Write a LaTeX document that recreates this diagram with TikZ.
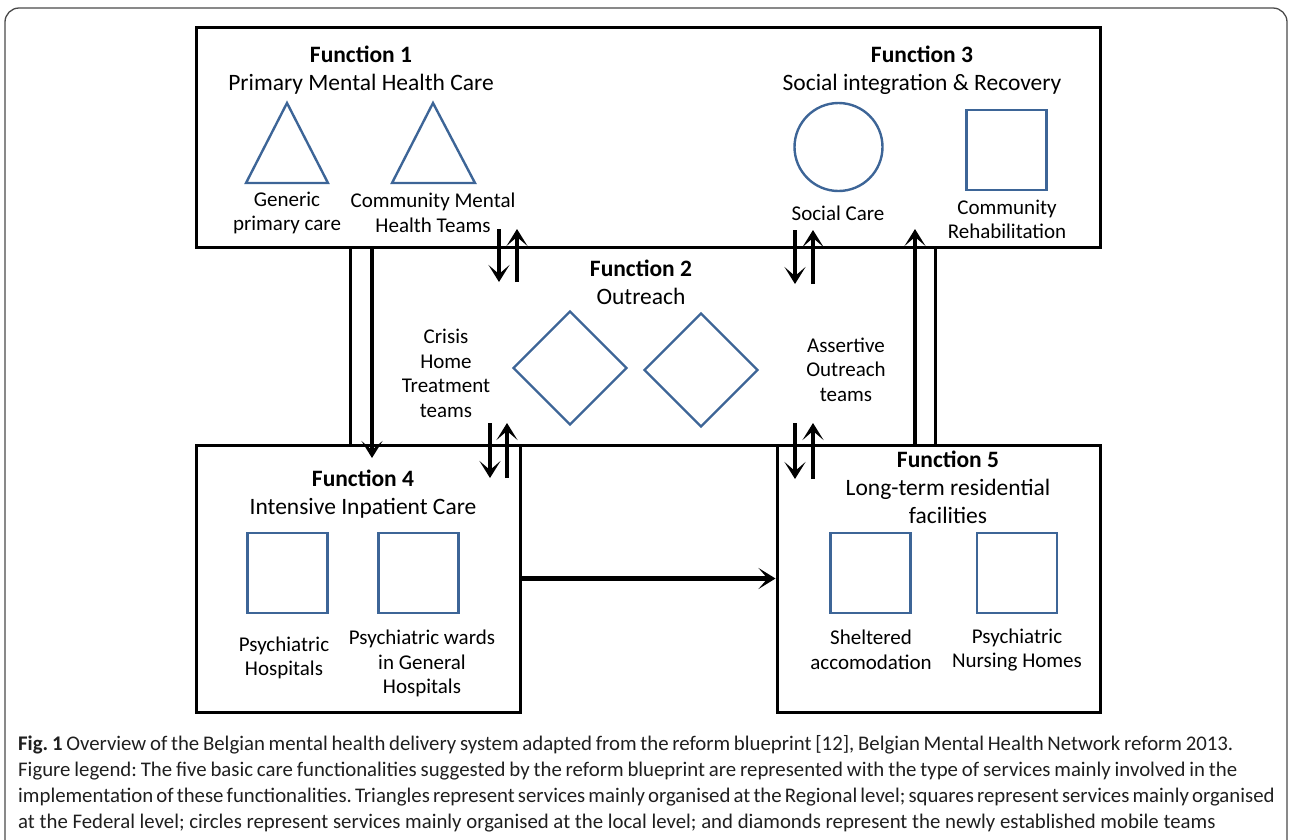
\documentclass[tikz,border=0pt]{standalone}
\usepackage{fontspec}
\setmainfont{Carlito}
\usepackage{tikz}
\usetikzlibrary{arrows.meta,positioning,shapes.geometric}
\definecolor{servblue}{HTML}{3D6597}
\definecolor{framegray}{HTML}{4A4A4A}
\tikzset{
  funcbox/.style={draw,line width=3pt,inner sep=0pt},
  service/.style={draw=servblue,line width=2.4pt,inner sep=0pt},
  squareservice/.style={service,rectangle,minimum size=80pt},
  diamondservice/.style={service,diamond,minimum size=114pt},
  flowarrow/.style={-{Stealth[length=17pt,width=21pt,inset=9pt]},line width=4.5pt},
  functitle/.style={align=center,font=\fontsize{23.5}{28}\selectfont},
  servlabel/.style={align=center,font=\fontsize{21}{24.5}\selectfont},
  captionline/.style={anchor=base west,inner sep=0pt,font=\fontsize{20.8}{25}\selectfont\frenchspacing,text=black!88}
}

\begin{document}
\begin{tikzpicture}[x=1pt,y=-1pt]
\useasboundingbox (0,0) rectangle (1290,839);
\draw[framegray,line width=1.3pt,rounded corners=14pt] (5,8) rectangle (1287,880);

% the five function boxes
\node[funcbox,minimum width=585pt,minimum height=198pt] (outreach) at (642.5,346) {};
\node[funcbox,minimum width=904pt,minimum height=220pt] (topbox) at (648,137) {};
\node[funcbox,minimum width=324pt,minimum height=267pt] (inpatient) at (358,578.5) {};
\node[funcbox,minimum width=323pt,minimum height=267pt] (residential) at (938.5,578.5) {};

% titles
\node[functitle] (f1title) at (361,70) {\textbf{Function 1}\\Primary Mental Health Care};
\node[functitle] (f3title) at (922,70) {\textbf{Function 3}\\Social integration \& Recovery};
\node[functitle] (f2title) at (641,282) {\textbf{Function 2}\\Outreach};
\node[functitle] (f4title) at (363,494) {\textbf{Function 4}\\Intensive Inpatient Care};
\node[functitle] (f5title) at (948,487) {\textbf{Function 5}\\Long-term residential\\facilities};

% function 1: regional services
\draw[service] (287,103) -- (328,183) -- (246,183) -- cycle;
\draw[service] (433,103) -- (475,183) -- (392,183) -- cycle;
\node[servlabel] (genericlbl) at (287,213) {Generic\\primary care};
\node[servlabel] (cmhtlbl) at (433,213) {Community Mental\\Health Teams};

% function 3
\node[service,circle,minimum size=88pt] (socialcare) at (838.5,147) {};
\node[squareservice] (rehab) at (1006.5,150) {};
\node[servlabel] (socialcarelbl) at (838,213) {Social Care};
\node[servlabel] (rehablbl) at (1007,219.5) {Community\\Rehabilitation};

% function 2: mobile teams
\node[diamondservice] (crisis) at (570,368) {};
\node[diamondservice] (assertive) at (701,370) {};
\node[servlabel] (crisislbl) at (446,373.5) {Crisis\\Home\\Treatment\\teams};
\node[servlabel] (assertivelbl) at (846,369.5) {Assertive\\Outreach\\teams};

% function 4
\node[squareservice] (pshosp) at (287.5,573) {};
\node[squareservice] (pswards) at (418.5,573) {};
\node[servlabel] (pshosplbl) at (284,658) {Psychiatric\\Hospitals};
\node[servlabel] (pswardslbl) at (422,663.5) {Psychiatric wards\\in General\\Hospitals};

% function 5
\node[squareservice] (sheltered) at (870.5,573) {};
\node[squareservice] (nursing) at (1017,573) {};
\node[servlabel] (shelteredlbl) at (871,650) {Sheltered\\accomodation};
\node[servlabel] (nursinglbl) at (1017,650) {Psychiatric\\Nursing Homes};

% flows between functions
\coordinate (downstart) at (372,247);
\coordinate (downend) at (372,458);
\coordinate (upstart) at (915,445);
\coordinate (upend) at (915,229);
\draw[flowarrow] (downstart) -- (downend);
\draw[flowarrow] (upstart) -- (upend);
\draw[flowarrow] (inpatient) -- (residential);

% exchanges across the outreach borders
\foreach \dx/\ux/\ya/\yb [count=\k] in {499/517/229/282, 795/813/230/284, 490/507/423/478, 795/813/423/479}{
  \coordinate (xa\k) at (\dx,\ya);
  \coordinate (xb\k) at (\dx,\yb);
  \coordinate (ya\k) at (\ux,\yb);
  \coordinate (yb\k) at (\ux,\ya);
  \draw[flowarrow] (xa\k) -- (xb\k);
  \draw[flowarrow] (ya\k) -- (yb\k);
}

% caption
\node[captionline] (cap1) at (18,750) {\makebox[1215pt][s]{\textbf{Fig. 1} Overview of the Belgian mental health delivery system adapted from the reform blueprint [12], Belgian Mental Health Network reform 2013.}};
\node[captionline] (cap2) at (18,776) {\makebox[1219pt][s]{Figure legend: The five basic care functionalities suggested by the reform blueprint are represented with the type of services mainly involved in the}};
\node[captionline] (cap3) at (18,802) {\makebox[1222pt][s]{implementation of these functionalities. Triangles represent services mainly organised at the Regional level; squares represent services mainly organised}};
\node[captionline] (cap4) at (18,828) {at the Federal level; circles represent services mainly organised at the local level; and diamonds represent the newly established mobile teams};
\end{tikzpicture}
\end{document}
